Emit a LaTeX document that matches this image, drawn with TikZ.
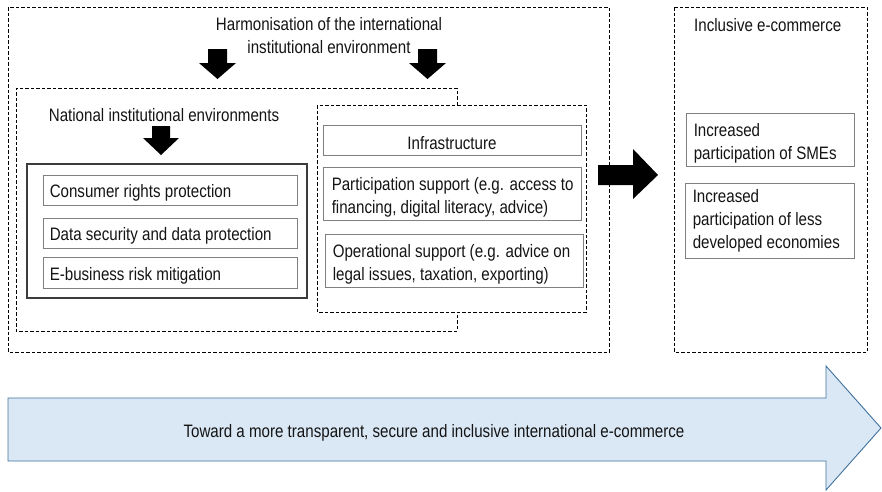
\documentclass[tikz,border=0pt]{standalone}
\usepackage{fontspec}
\setmainfont{Liberation Sans}[FakeStretch=0.84]
\definecolor{flowfill}{RGB}{218,232,245}
\definecolor{flowline}{RGB}{65,113,156}
\definecolor{boxline}{RGB}{128,128,128}
\definecolor{groupline}{RGB}{60,60,60}
\definecolor{txt}{RGB}{20,20,20}
\begin{document}
\begin{tikzpicture}[x=1pt,y=-1pt,
  font=\fontsize{18}{23}\selectfont, text=txt,
  dashbox/.style={draw=black, line width=0.8pt, dash pattern=on 3.5pt off 2pt},
  itembox/.style={draw=boxline, line width=0.9pt, inner sep=0pt, anchor=center},
  itemtext/.style={anchor=west, align=left, inner sep=0pt},
  blockarrow/.style={fill=black, draw=none}]
\useasboundingbox (0,0) rectangle (882,491);

% frames
\draw[dashbox] (8,7) rectangle (609,352);
\draw[dashbox] (674,7) rectangle (867,352);
\draw[dashbox] (457,105) -- (457,88) -- (16,88) -- (16,331) -- (457,331) -- (457,312);
\draw[dashbox] (317,105) rectangle (586,312);

% titles
\node[align=center] (harm) at (329,36) {Harmonisation of the international\\institutional environment};
\node (natl) at (164,115.5) {National institutional environments};
\node[anchor=west, inner sep=0pt] (incl) at (694,25.5) {Inclusive e-commerce};

% national environment group
\node[draw=groupline, line width=1.4pt, minimum width=280, minimum height=134, inner sep=0pt] (group) at (167,231) {};
\node[itembox, minimum width=254, minimum height=30] (cons) at (170,190) {};
\node[itemtext] at ([xshift=7pt,yshift=-3pt]cons.west) {Consumer rights protection};
\node[itembox, minimum width=254, minimum height=30] (data) at (170,233) {};
\node[itemtext] at ([xshift=7pt,yshift=-3pt]data.west) {Data security and data protection};
\node[itembox, minimum width=254, minimum height=31] (risk) at (170,272.5) {};
\node[itemtext] at ([xshift=7pt,yshift=-3pt]risk.west) {E-business risk mitigation};

% support group
\node[itembox, minimum width=258, minimum height=30] (infra) at (452,140) {};
\node[inner sep=0pt] at ([yshift=-3pt]infra.center) {Infrastructure};
\node[itembox, minimum width=258, minimum height=53] (part) at (452,193.5) {};
\node[itemtext] at ([xshift=9pt,yshift=-4pt]part.west) {Participation support (e.g. access to\\financing, digital literacy, advice)};
\node[itembox, minimum width=258, minimum height=53] (oper) at (454,260.5) {};
\node[itemtext] at ([xshift=8pt,yshift=-4pt]oper.west) {Operational support (e.g. advice on\\legal issues, taxation, exporting)};

% outcomes
\node[itembox, minimum width=168, minimum height=53] (sme) at (770,139.5) {};
\node[itemtext] at ([xshift=8pt,yshift=-4pt]sme.west) {Increased\\participation of SMEs};
\node[itembox, minimum width=169, minimum height=75] (ldc) at (769.5,220.5) {};
\node[itemtext] at ([xshift=8pt]ldc.west) {Increased\\participation of less\\developed economies};

% block arrows
\fill[blockarrow] (208,49) -- (227,49) -- (227,63) -- (236,63) -- (217.5,79) -- (199,63) -- (208,63) -- cycle;
\fill[blockarrow] (418,49) -- (437,49) -- (437,63) -- (446,63) -- (427.5,79) -- (409,63) -- (418,63) -- cycle;
\fill[blockarrow] (152,126) -- (170,126) -- (170,138) -- (179,138) -- (161,155) -- (143,138) -- (152,138) -- cycle;
\fill[blockarrow] (598,165) -- (633,165) -- (633,149) -- (658,175) -- (633,199) -- (633,185) -- (598,185) -- cycle;

% direction banner
\draw[fill=flowfill, draw=flowline, line width=0.9pt]
  (8,398) -- (826,398) -- (826,366) -- (881,428) -- (826,490) -- (826,461) -- (8,461) -- cycle;
\node (goal) at (434,433) {Toward a more transparent, secure and inclusive international e-commerce};
\end{tikzpicture}
\end{document}
